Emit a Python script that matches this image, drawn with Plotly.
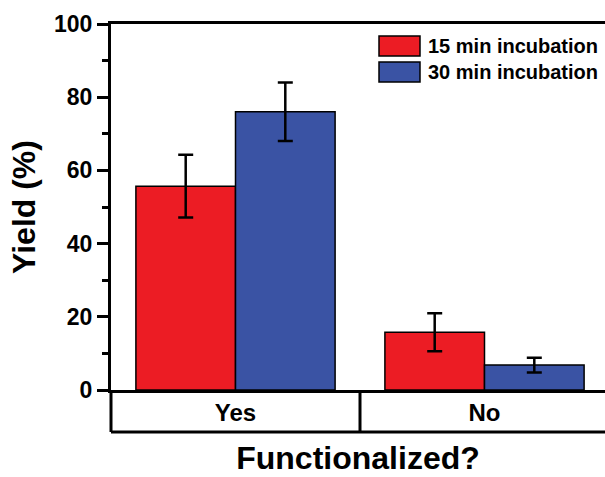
import plotly.graph_objects as go

# Yield data (%), mean and standard deviation per group
categories = ["Yes", "No"]
series_names = ["15 min incubation", "30 min incubation"]
yield_15 = [55.7, 15.8]
err_15 = [8.6, 5.2]
yield_30 = [76.0, 6.8]
err_30 = [8.0, 2.0]
y_ticks = [0, 20, 40, 60, 80, 100]

RED = "#EC1C24"
BLUE = "#3A53A4"
FONT = "Liberation Sans, Arial, sans-serif"

W, H = 605, 477
L, R, T, B = 111, 0, 24, 87
plot_w = W - L - R
plot_h = H - T - B


def px_x(px):
    return (px - L) / plot_w


def px_y(py):
    return (H - B - py) / plot_h


fig = go.Figure()
for name, vals, errs, color in [
    (series_names[0], yield_15, err_15, RED),
    (series_names[1], yield_30, err_30, BLUE),
]:
    fig.add_trace(go.Bar(
        x=categories, y=vals, name=name,
        marker=dict(color=color, line=dict(color="black", width=1.5)),
        error_y=dict(type="data", array=errs, visible=True,
                     color="black", thickness=2.5, width=7.5),
        showlegend=False,
    ))

shapes = []
# category band below the axis
band_bottom = px_y(432)
line = dict(color="black", width=3)
shapes.append(dict(type="line", xref="paper", yref="paper",
                   x0=0, x1=1, y0=band_bottom, y1=band_bottom, line=line))
shapes.append(dict(type="line", xref="paper", yref="paper",
                   x0=0, x1=0, y0=band_bottom, y1=0, line=line))
shapes.append(dict(type="line", xref="x", yref="paper",
                   x0=0.5, x1=0.5, y0=band_bottom, y1=0, line=line))

# legend swatches and labels
annotations = []
swatch_rows = [(36, 56, RED), (62, 82, BLUE)]
for (top, bot, color), name in zip(swatch_rows, series_names):
    shapes.append(dict(type="rect", xref="paper", yref="paper",
                       x0=px_x(379), x1=px_x(420), y0=px_y(bot), y1=px_y(top),
                       fillcolor=color, line=dict(color="black", width=1.5)))
    annotations.append(dict(xref="paper", yref="paper", x=px_x(426),
                            y=px_y((top + bot) / 2), xanchor="left", yanchor="middle",
                            text=name, showarrow=False,
                            font=dict(family=FONT, size=20, color="black", weight="bold")))

fig.update_layout(
    width=W, height=H,
    margin=dict(l=L, r=R, t=T, b=B, pad=0),
    paper_bgcolor="white", plot_bgcolor="white",
    barmode="group", bargap=0.2, bargroupgap=0,
    font=dict(family=FONT, color="black"),
    shapes=shapes, annotations=annotations,
    xaxis=dict(
        type="category", range=[-0.5, -0.5 + plot_w / 249.0],
        showline=True, linecolor="black", linewidth=3, mirror=True,
        ticks="", showgrid=False, zeroline=False,
        tickfont=dict(family=FONT, size=24, color="black", weight="bold"),
        ticklabelstandoff=-1,
        title=dict(text="Functionalized?", standoff=22,
                   font=dict(family=FONT, size=32, color="black", weight="bold")),
    ),
    yaxis=dict(
        range=[0, 100], tickvals=y_ticks,
        showline=True, linecolor="black", linewidth=3,
        ticks="outside", ticklen=11, tickwidth=2.5, tickcolor="black",
        minor=dict(dtick=10, ticks="outside", ticklen=6, tickwidth=2.5, tickcolor="black"),
        showgrid=False, zeroline=False,
        tickfont=dict(family=FONT, size=23, color="black", weight="bold"),
        title=dict(text="Yield (%)", standoff=9,
                   font=dict(family=FONT, size=32, color="black", weight="bold")),
    ),
)

fig.write_html("out.html")
